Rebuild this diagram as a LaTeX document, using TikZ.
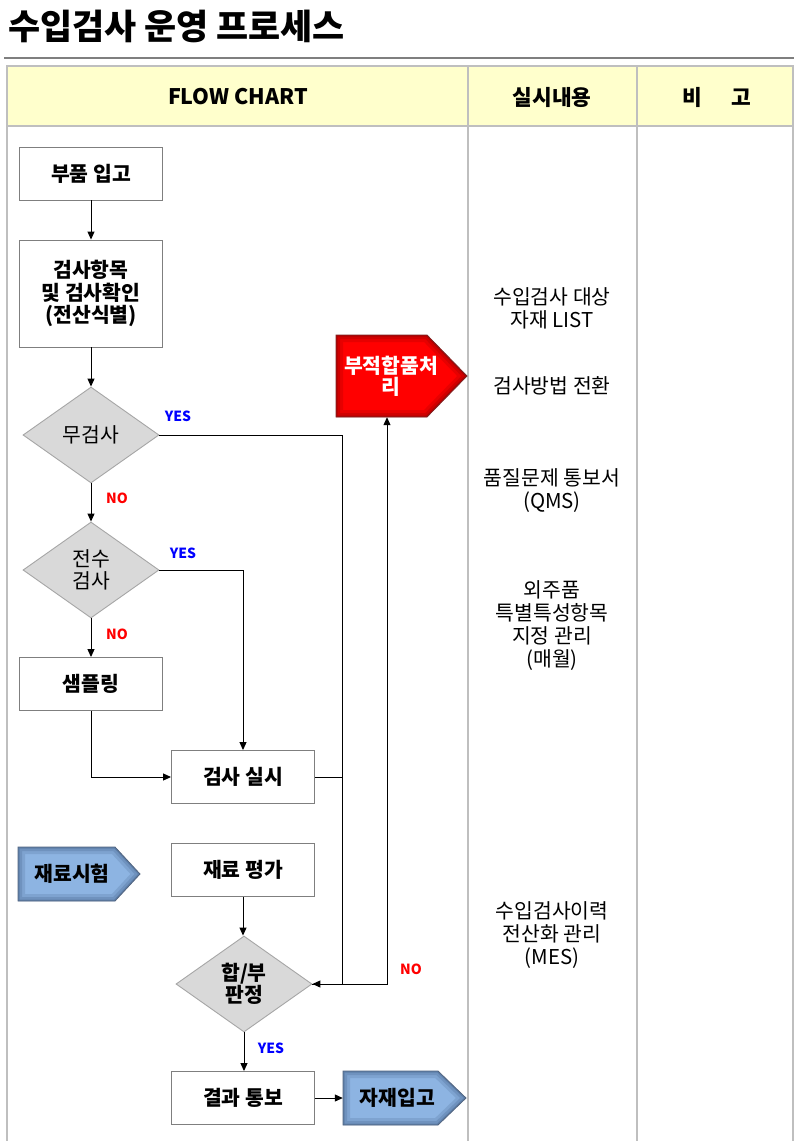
\documentclass[tikz,border=0pt]{standalone}
\usepackage{fontspec}
\setmainfont{Noto Sans CJK KR}
\usetikzlibrary{calc,arrows.meta,shapes.geometric}
\definecolor{hdr}{HTML}{FFFFCC}
\definecolor{grid}{HTML}{BFBFBF}
\definecolor{boxline}{HTML}{7F7F7F}
\definecolor{dia}{HTML}{D9D9D9}
\definecolor{dialine}{HTML}{A6A6A6}
\definecolor{bluef}{HTML}{8DB4E2}
\definecolor{blueg}{HTML}{3E5A80}
\definecolor{redf}{HTML}{FF0000}
\definecolor{redg}{HTML}{7A0000}
\definecolor{yesc}{HTML}{0000FF}
\definecolor{noc}{HTML}{FF0000}
\newcommand\mypenta[8]{%
  \begin{scope}
    \clip (#1,#4) -- (#2,#4) -- (#3,#6) -- (#2,#5) -- (#1,#5) -- cycle;
    \fill[#7] (#1,#4) -- (#2,#4) -- (#3,#6) -- (#2,#5) -- (#1,#5) -- cycle;
    \draw[#8,line width=14bp,opacity=0.18] (#1,#4) -- (#2,#4) -- (#3,#6) -- (#2,#5) -- (#1,#5) -- cycle;
    \draw[#8,line width=8bp,opacity=0.22] (#1,#4) -- (#2,#4) -- (#3,#6) -- (#2,#5) -- (#1,#5) -- cycle;
    \draw[#8,line width=3bp,opacity=0.35] (#1,#4) -- (#2,#4) -- (#3,#6) -- (#2,#5) -- (#1,#5) -- cycle;
  \end{scope}
  \draw[#8!70!gray,line width=0.8bp] (#1,#4) -- (#2,#4) -- (#3,#6) -- (#2,#5) -- (#1,#5) -- cycle;
}
\tikzset{
  stepbox/.style={draw=boxline,line width=0.9bp,fill=white,minimum width=143bp,minimum height=53bp,
    inner sep=0pt,align=center,font=\bfseries\fontsize{20.5}{22.5}\selectfont},
  decide/.style={diamond,draw=dialine,line width=0.9bp,fill=dia,minimum width=136bp,minimum height=96bp,
    inner sep=0pt,align=center,font=\fontsize{20.5}{22.5}\selectfont},
  arr/.style={draw=black,line width=1bp,-{Triangle[length=8bp,width=7bp]}},
  conn/.style={draw=black,line width=1bp},
  yeslab/.style={text=yesc,font=\bfseries\fontsize{14}{15}\selectfont,inner sep=0pt},
  nolab/.style={text=noc,font=\bfseries\fontsize{14}{15}\selectfont,inner sep=0pt},
  note/.style={align=center,font=\fontsize{20.5}{23}\selectfont,inner sep=0pt},
  hdrtxt/.style={font=\bfseries\fontsize{21.5}{24}\selectfont,inner sep=0pt},
  pentatxt/.style={align=center,inner sep=0pt,font=\bfseries\fontsize{20.5}{21}\selectfont}
}
\begin{document}
\begin{tikzpicture}[x=1bp,y=-1bp]
\useasboundingbox (0,0) rectangle (794,1141);
\fill[white] (0,0) rectangle (794,1141);
% title
\node[anchor=west,inner sep=0pt,font=\bfseries\fontsize{35}{38}\selectfont] (title) at (8,26) {수입검사 운영 프로세스};
\draw[boxline,line width=2.5bp] (4,58) -- (794,58);
% table
\fill[hdr] (7,66) rectangle (793,126);
\draw[grid,line width=1.3bp] (7,1141) -- (7,66) -- (793,66) -- (793,1141);
\draw[grid,line width=1.3bp] (7,126) -- (793,126);
\draw[grid,line width=1.3bp] (468,66) -- (468,1141);
\draw[grid,line width=1.3bp] (637,66) -- (637,1141);
\node[hdrtxt] (h1) at (238,97) {FLOW CHART};
\node[hdrtxt] (h2) at (552,97) {실시내용};
\node[hdrtxt] (h3) at (717,97) {비\hspace{30bp}고};
% flow nodes
\node[stepbox] (recv) at (91,173.5) {부품 입고};
\node[stepbox,minimum height=107bp] (item) at (91,293.5) {검사항목\\및 검사확인\\(전산식별)};
\node[decide] (d1) at (91,435) {무검사};
\node[decide] (d2) at (91,570) {전수\\검사};
\node[stepbox] (samp) at (91,684) {샘플링};
\node[stepbox] (insp) at (243,777) {검사 실시};
\node[stepbox] (mat) at (243,870) {재료 평가};
\node[decide,font=\bfseries\fontsize{20.5}{22.5}\selectfont] (d3) at (244,984) {합/부\\판정};
\node[stepbox] (res) at (243,1098) {결과 통보};
% pentagons
\mypenta{336}{427}{467}{335}{417}{376}{redf}{redg}
\node[pentatxt,text=white,minimum height=82bp] (rej) at (391,376) {부적합품처\\리};
\mypenta{18}{115}{140}{847}{901}{874}{bluef}{blueg}
\node[pentatxt] (test) at (72,874) {재료시험};
\mypenta{343}{438}{466}{1071}{1125}{1098}{bluef}{blueg}
\node[pentatxt,minimum width=109bp,minimum height=54bp] (stock) at (397.5,1098) {자재입고};
% junction coordinates
\coordinate (j1) at (342,984);
\coordinate (j2) at (387,984);
% connectors
\draw[arr] (recv.south) -- (item.north);
\draw[arr] (item.south) -- (d1.north);
\draw[arr] (d1.south) -- (d2.north);
\draw[arr] (d2.south) -- (samp.north);
\draw[arr] (d1.east) -| (j1) -- (d3.east);
\draw[conn] (insp.east) -- (insp.east -| j1);
\draw[arr] (d3.east) -- (j2) -- (j2 |- rej.south);
\draw[arr] (d2.east) -| (insp.north);
\draw[arr] (samp.south) |- (insp.west);
\draw[arr] (mat.south) -- (mat.south |- d3.north);
\draw[arr] (d3.south) -- (d3.south |- res.north);
\draw[arr] (res.east) -- (stock.west);
% labels
\node[yeslab] (y1) at (178,416) {YES};
\node[yeslab] (y2) at (183,553) {YES};
\node[yeslab] (y3) at (271,1048) {YES};
\node[nolab] (n1) at (117,498) {NO};
\node[nolab] (n2) at (117,634) {NO};
\node[nolab] (n3) at (411,969) {NO};
% notes
\node[note] (t1) at (552,308) {수입검사 대상\\자재 LIST};
\node[note] (t2) at (552,386) {검사방법 전환};
\node[note] (t3) at (552,490.5) {품질문제 통보서\\(QMS)};
\node[note] (t4) at (552,625.5) {외주품\\특별특성항목\\지정 관리\\(매월)};
\node[note] (t5) at (552,935) {수입검사이력\\전산화 관리\\(MES)};
\end{tikzpicture}
\end{document}
